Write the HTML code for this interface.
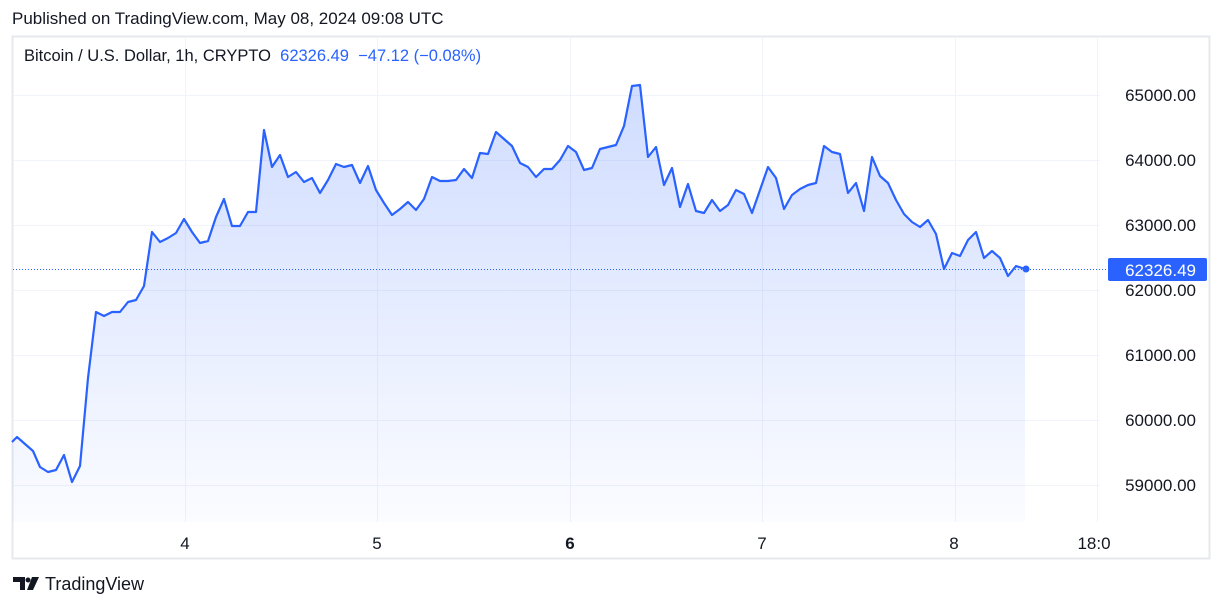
<!DOCTYPE html>
<html><head><meta charset="utf-8"><style>
body{margin:0;width:1220px;height:607px;background:#fff;font-family:"Liberation Sans",sans-serif;overflow:hidden;position:relative}
.t{position:absolute;white-space:nowrap}
</style></head><body>
<div class="t" style="left:12px;top:9px;font-size:17px;color:#131722">Published on TradingView.com, May 08, 2024 09:08 UTC</div>
<svg width="1220" height="607" style="position:absolute;left:0;top:0">
<defs><linearGradient id="g" x1="0" y1="85" x2="0" y2="522" gradientUnits="userSpaceOnUse">
<stop offset="0" stop-color="#2962ff" stop-opacity="0.22"/><stop offset="1" stop-color="#2962ff" stop-opacity="0.02"/></linearGradient></defs>
<rect x="12.5" y="36.5" width="1197" height="522" fill="none" stroke="#e6e8ee" stroke-width="2"/>
<g stroke="#f0f3fa" stroke-width="1">
<line x1="13" y1="95.5" x2="1100" y2="95.5"/><line x1="13" y1="160.5" x2="1100" y2="160.5"/><line x1="13" y1="225.5" x2="1100" y2="225.5"/><line x1="13" y1="290.5" x2="1100" y2="290.5"/><line x1="13" y1="355.5" x2="1100" y2="355.5"/><line x1="13" y1="420.5" x2="1100" y2="420.5"/><line x1="13" y1="485.5" x2="1100" y2="485.5"/>
<line x1="185.5" y1="37" x2="185.5" y2="522"/><line x1="377.5" y1="37" x2="377.5" y2="522"/><line x1="570.5" y1="37" x2="570.5" y2="522"/><line x1="762.5" y1="37" x2="762.5" y2="522"/><line x1="955.5" y1="37" x2="955.5" y2="522"/><line x1="1097.5" y1="37" x2="1097.5" y2="522"/>
</g>
<path d="M12,442 L17,437 L25,444 L33,451 L40,467 L48,472 L56,470 L64,455 L72,482 L80,466 L88,378 L96,312 L104,316 L112,312 L120,312 L128,302 L136,300 L144,286 L152,232 L160,242 L168,238 L176,233 L184,219 L192,232 L200,243 L208,241 L216,217 L224,199 L232,226 L240,226 L248,212 L256,212 L264,130 L272,167 L280,155 L288,177 L296,172 L304,182 L312,178 L320,193 L328,180 L336,164 L344,167 L352,165 L360,183 L368,166 L376,190 L384,203 L392,215 L400,209 L408,202 L416,210 L424,199 L432,177 L440,181 L448,181 L456,180 L464,169 L472,178 L480,153 L488,154 L496,132 L504,139 L512,146 L520,163 L528,167 L536,177 L544,169 L552,169 L560,160 L568,146 L576,152 L584,170 L592,168 L600,149 L608,147 L616,145 L624,126 L632,86 L640,85 L648,157 L656,147 L664,185 L672,168 L680,207 L688,184 L696,211 L704,213 L712,200 L720,211 L728,205 L736,190 L744,194 L752,213 L760,190 L768,167 L776,178 L784,209 L792,195 L800,189 L808,185 L816,183 L824,146 L832,152 L840,154 L848,193 L856,183 L864,211 L872,157 L880,176 L888,183 L896,200 L904,214 L912,222 L920,227 L928,220 L936,234 L944,269 L952,253 L960,256 L968,240 L976,232 L984,258 L992,251 L1000,258 L1008,276 L1016,266 L1025,269 L1025,522 L12,522 Z" fill="url(#g)"/>
<path d="M12,442 L17,437 L25,444 L33,451 L40,467 L48,472 L56,470 L64,455 L72,482 L80,466 L88,378 L96,312 L104,316 L112,312 L120,312 L128,302 L136,300 L144,286 L152,232 L160,242 L168,238 L176,233 L184,219 L192,232 L200,243 L208,241 L216,217 L224,199 L232,226 L240,226 L248,212 L256,212 L264,130 L272,167 L280,155 L288,177 L296,172 L304,182 L312,178 L320,193 L328,180 L336,164 L344,167 L352,165 L360,183 L368,166 L376,190 L384,203 L392,215 L400,209 L408,202 L416,210 L424,199 L432,177 L440,181 L448,181 L456,180 L464,169 L472,178 L480,153 L488,154 L496,132 L504,139 L512,146 L520,163 L528,167 L536,177 L544,169 L552,169 L560,160 L568,146 L576,152 L584,170 L592,168 L600,149 L608,147 L616,145 L624,126 L632,86 L640,85 L648,157 L656,147 L664,185 L672,168 L680,207 L688,184 L696,211 L704,213 L712,200 L720,211 L728,205 L736,190 L744,194 L752,213 L760,190 L768,167 L776,178 L784,209 L792,195 L800,189 L808,185 L816,183 L824,146 L832,152 L840,154 L848,193 L856,183 L864,211 L872,157 L880,176 L888,183 L896,200 L904,214 L912,222 L920,227 L928,220 L936,234 L944,269 L952,253 L960,256 L968,240 L976,232 L984,258 L992,251 L1000,258 L1008,276 L1016,266 L1025,269" fill="none" stroke="#2962ff" stroke-width="2.2" stroke-linejoin="round"/>
<line x1="13" y1="269.5" x2="1108" y2="269.5" stroke="#2962ff" stroke-width="1" stroke-dasharray="1,2"/>
<circle cx="1026" cy="269" r="3.5" fill="#2962ff"/>
<rect x="1108" y="258" width="99" height="23" rx="2" fill="#2962ff"/>
<g font-family="Liberation Sans,sans-serif" font-size="17" fill="#131722" text-anchor="end">
<text x="1196" y="101">65000.00</text><text x="1196" y="166">64000.00</text><text x="1196" y="231">63000.00</text><text x="1196" y="296">62000.00</text><text x="1196" y="361">61000.00</text><text x="1196" y="426">60000.00</text><text x="1196" y="491">59000.00</text>
<text x="1196" y="276" fill="#fff">62326.49</text>
</g>
<g font-family="Liberation Sans,sans-serif" font-size="17" fill="#131722" text-anchor="middle">
<text x="185" y="549">4</text><text x="377" y="549">5</text><text x="570" y="549" font-weight="bold">6</text><text x="762" y="549">7</text><text x="954" y="549">8</text><text x="1094" y="549">18:0</text>
</g>
<g fill="#131722"><path d="M13,577 h12 v13 h-5 v-8 h-7z"/><circle cx="28" cy="580" r="2.5"/><path d="M32,577 h7 l-6,13 h-6z"/></g>
</svg>
<div class="t" style="left:24px;top:47px;font-size:16.5px;color:#131722">Bitcoin / U.S. Dollar, 1h, CRYPTO&nbsp; <span style="color:#2962ff">62326.49&nbsp; −47.12 (−0.08%)</span></div>
<div class="t" style="left:45px;top:574px;font-size:18px;color:#131722">TradingView</div>
</body></html>
